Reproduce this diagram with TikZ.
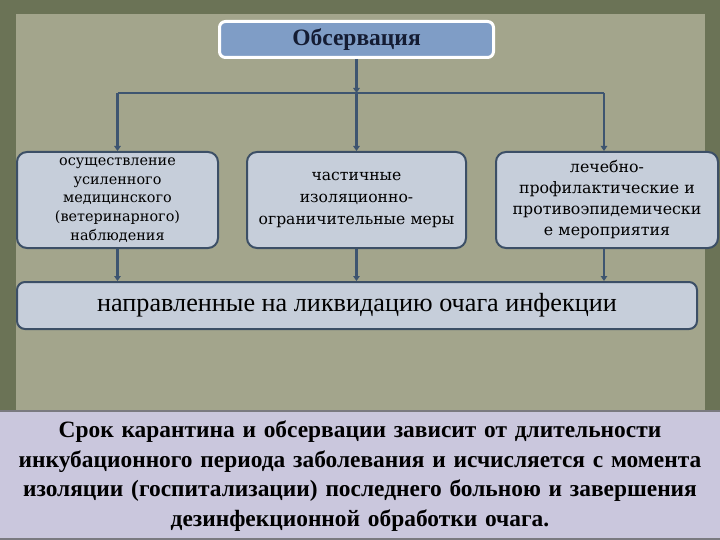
\documentclass[tikz,border=0pt]{standalone}
\usepackage{fontspec}
\setmainfont{Liberation Serif}
\newfontfamily\boxfont{DejaVu Serif}
\usetikzlibrary{arrows.meta}
\definecolor{outerbg}{HTML}{6B7356}
\definecolor{innerbg}{HTML}{A3A58C}
\definecolor{boxfill}{HTML}{C6CEDA}
\definecolor{boxline}{HTML}{3C4F66}
\definecolor{topfill}{HTML}{7F9DC6}
\definecolor{topink}{HTML}{141C33}
\definecolor{arrcol}{HTML}{3E5570}
\definecolor{notefill}{HTML}{CAC7DD}
\definecolor{noteline}{HTML}{7A7A80}
\begin{document}
\begin{tikzpicture}[x=1pt,y=-1pt,
  topbox/.style={draw=white, line width=3pt, fill=topfill, rounded corners=6pt,
    minimum width=274pt, minimum height=36pt, inner sep=0pt, text=topink,
    font=\fontsize{23.5}{26}\selectfont\bfseries},
  midbox/.style={draw=boxline, line width=2pt, fill=boxfill, rounded corners=10pt,
    minimum height=96pt, inner sep=2pt, align=center, text=black},
  widebox/.style={draw=boxline, line width=2pt, fill=boxfill, rounded corners=8pt,
    minimum width=680pt, minimum height=47pt, inner sep=0pt, text=black,
    font=\fontsize{26.2}{28}\selectfont},
  lnk/.style={draw=arrcol, line width=2.8pt},
  arr/.style={lnk, -{Triangle[length=5pt,width=6.5pt]}}
]
\useasboundingbox (0,0) rectangle (720,540);
\fill[outerbg] (0,0) rectangle (720,540);
\fill[innerbg] (16,14) rectangle (705,410);

\node[topbox] (top) at (356.5,39.5) {Обсервация};

\node[midbox, minimum width=201pt, text width=195pt,
  font=\boxfont\fontsize{14.4}{18.8}\selectfont] (b1) at (117.5,200)
  {осуществление\\усиленного\\медицинского\\(ветеринарного)\\наблюдения};
\node[midbox, minimum width=219pt, text width=213pt,
  font=\boxfont\fontsize{15.6}{22}\selectfont] (b2) at (356.5,200)
  {частичные\\изоляционно-\\ограничительные меры};
\node[midbox, minimum width=222pt, text width=216pt,
  font=\boxfont\fontsize{15.8}{21}\selectfont] (b3) at (607,200)
  {лечебно-\\профилактические и\\противоэпидемически\\е мероприятия};

\node[widebox] (w) at (357,305.5) {направленные на ликвидацию очага инфекции};

\coordinate (j) at (356.5,93);
\coordinate (jl) at (117.5,93);
\coordinate (jr) at (604,93);
\draw[arr] (top.south) -- (j);
\draw[lnk] (jl) -- (jr);
\draw[arr] (jl) -- (b1.north);
\draw[arr] (j) -- (b2.north);
\draw[arr] (jr) -- (jr |- b3.north);

\draw[arr] (b1.south) -- (b1.south |- w.north);
\draw[arr] (b2.south) -- (b2.south |- w.north);
\draw[arr] (jr |- b3.south) -- (jr |- w.north);

\fill[notefill] (0,410) rectangle (720,540);
\draw[noteline, line width=2pt] (0,411) -- (720,411);
\draw[noteline, line width=1.5pt] (0,539) -- (720,539);
\node[text width=716pt, align=center, font=\fontsize{23.4}{29.5}\selectfont\bfseries,
  text=black] (notetext) at (360,476)
  {Срок карантина и обсервации зависит от длительности\\
   инкубационного периода заболевания и исчисляется с момента\\
   изоляции (госпитализации) последнего больною и завершения\\
   дезинфекционной обработки очага.};
\end{tikzpicture}
\end{document}
